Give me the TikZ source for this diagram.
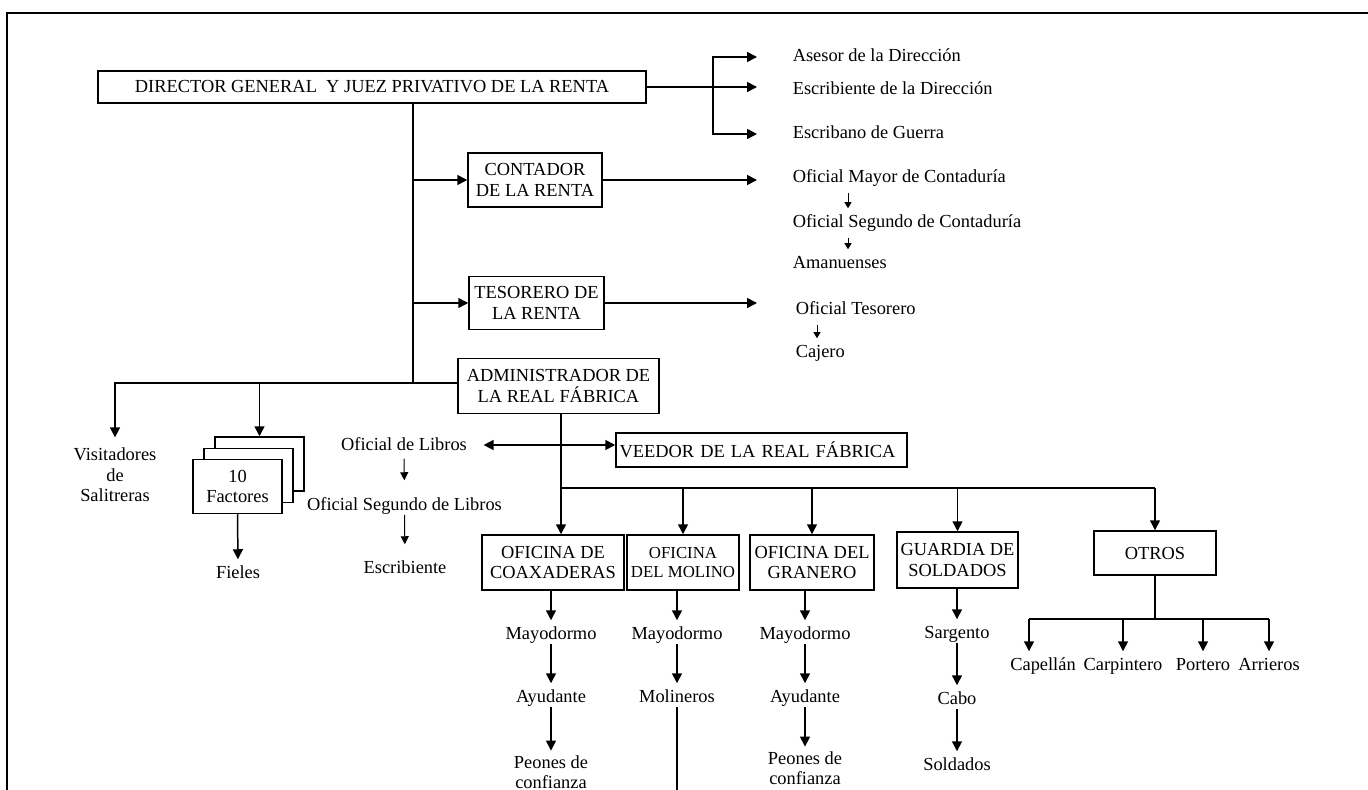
\documentclass[tikz,border=0pt]{standalone}
\usepackage{fontspec}
\setmainfont{Liberation Serif}
\usetikzlibrary{arrows.meta}
\newcommand{\letra}{\fontsize{9.2}{10.2}\selectfont}
\newcommand{\letrita}{\fontsize{8.4}{9.8}\selectfont}

\begin{document}
\begin{tikzpicture}[x=0.5pt,y=-0.5pt,line width=0.75pt,
    >={Triangle[length=5pt,width=5pt]},
    caja/.style={draw,fill=white,inner sep=0pt,align=center,font=\letra},
    cargo/.style={inner sep=0pt,font=\letra,text height=7pt,text depth=2pt},
    cargos/.style={inner sep=0pt,align=center,font=\letra},
    baja/.style={->,shorten >=2pt},
    fina/.style={->,line width=0.5pt,>={Triangle[length=4pt,width=4pt]}},
    chica/.style={-{Triangle[length=3pt,width=3.5pt]},line width=0.5pt,shorten <=2.5pt,shorten >=2.5pt}]
	  \useasboundingbox (0,0) rectangle (1368,790);
	  % page frame
	  \draw (7,790) -- (7,13) -- (1368,13);
	  \coordinate (punta) at (757,0);
	  \coordinate (brk) at (713,0);
	  \coordinate (fondo) at (0,790);
	  % director block
	  \node[caja,minimum width=274pt,minimum height=16pt] (dir) at (372,87) {DIRECTOR GENERAL\ \ Y JUEZ PRIVATIVO DE LA RENTA};
	  \node[cargo,anchor=west] (ases) at (792,57) {Asesor de la Dirección};
	  \node[cargo,anchor=west] (escr) at (792,90) {Escribiente de la Dirección};
	  \node[cargo,anchor=west] (escb) at (792,134) {Escribano de Guerra};
	  \draw[->] (dir.east) -- (punta |- dir.east);
	  \draw[<->] (punta |- ases) -| (brk |- dir.east) |- (punta |- escb);
	  % trunk down to the administrador
	  \coordinate (tr) at (413,383);
	  \draw (dir.south -| tr) -- (tr);
	  % contador block
	  \node[caja,minimum width=67pt,minimum height=27pt] (cont) at (535,180) {CONTADOR\\DE LA RENTA};
	  \draw[->] (tr |- cont) -- (cont.west);
	  \draw[->] (cont.east) -- (punta |- cont.east);
	  \node[cargo,anchor=west] (omay) at (792,178) {Oficial Mayor de Contaduría};
	  \node[cargo,anchor=west] (oseg) at (792,223) {Oficial Segundo de Contaduría};
	  \node[cargo,anchor=west] (aman) at (792,264) {Amanuenses};
	  \draw[chica] ([xshift=28pt]omay.south west) -- ([xshift=28pt]oseg.north west);
	  \draw[chica] ([xshift=28pt]oseg.south west) -- ([xshift=28pt]aman.north west);
	  % tesorero block
	  \node[caja,minimum width=67.5pt,minimum height=26.5pt] (tes) at (536.5,303) {TESORERO DE\\LA RENTA};
	  \draw[->] (tr |- tes) -- (tes.west);
	  \draw[->] (tes.east) -- (punta |- tes.east);
	  \node[cargo,anchor=west] (otes) at (795,310) {Oficial Tesorero};
	  \node[cargo,anchor=west] (caj) at (795,353) {Cajero};
	  \draw[chica] ([xshift=11pt]otes.south west) -- ([xshift=11pt]caj.north west);
	  % administrador block
	  \node[caja,minimum width=100.5pt,minimum height=27.5pt] (adm) at (558.5,386) {ADMINISTRADOR DE\\LA REAL FÁBRICA};
	  \draw (tr) -- (adm.west |- tr);
	  % visitadores and factores
	  \node[cargos] (vis) at (115,475) {Visitadores\\de\\Salitreras};
	  \draw[->,shorten >=5pt] (tr) -| (vis.north);
	  \node[caja,minimum width=44.5pt,minimum height=27pt] (fac3) at (259.5,464) {};
	  \node[caja,minimum width=44.5pt,minimum height=27pt] (fac2) at (248.5,475.5) {};
	  \node[caja,minimum width=44.5pt,minimum height=27pt] (fac) at (237.5,486.5) {10\\Factores};
	  \draw[->] (fac3.north |- tr) -- (fac3.north);
	  \node[cargo] (fie) at (238,573) {Fieles};
	  \draw[baja] (fac.south) -- (fie.north);
	  % libros and veedor
	  \node[cargo] (lib) at (404,445) {Oficial de Libros};
	  \node[caja,text width=142pt,align=left,inner xsep=1.75pt,minimum height=17pt] (vee) at (761.5,450) {VEEDOR DE LA REAL FÁBRICA};
	  \draw[<->,shorten <=8pt] (lib.east) -- (lib.east -| vee.west);
	  \node[cargo] (lseg) at (404.5,505) {Oficial Segundo de Libros};
	  \node[cargo] (lesc) at (405,568) {Escribiente};
	  \draw[fina,shorten <=2pt,shorten >=7.5pt] (lib) -- (lseg);
	  \draw[fina,shorten >=7pt] (lseg) -- (lesc);
	  % oficinas
	  \node[caja,minimum width=71pt,minimum height=27.5pt] (coax) at (553,562.5) {OFICINA DE\\COAXADERAS};
	  \node[caja,font=\letrita,minimum width=56pt,minimum height=27.5pt] (mol) at (683,562.5) {OFICINA\\DEL MOLINO};
	  \node[caja,minimum width=62pt,minimum height=27.5pt] (gra) at (812,562.5) {OFICINA DEL\\GRANERO};
	  \node[caja,minimum width=60.5pt,minimum height=28pt] (gua) at (957.5,560) {GUARDIA DE\\SOLDADOS};
	  \node[caja,minimum width=61pt,minimum height=22pt] (otr) at (1155,553) {OTROS};
	  % bus under the administrador
	  \coordinate (bus) at (561,488);
	  \draw[->] (adm.south -| bus) -- (coax.north -| bus);
	  \draw (bus) -- (bus -| otr.north);
	  \foreach \o in {mol,gra,gua,otr}
	    \draw[->] (bus -| \o.north) -- (\o.north);
	  % coaxaderas
	  \node[cargo] (may1) at (551,634) {Mayodormo};
	  \node[cargo] (ayu1) at (551,697) {Ayudante};
	  \node[cargos] (peo1) at (551,772) {Peones de\\confianza};
	  \draw[baja] (coax.south -| may1) -- (may1.north);
	  \draw[baja] (may1) -- (ayu1);
	  \draw[baja] (ayu1) -- (peo1);
	  % molino
	  \node[cargo] (may2) at (677,634) {Mayodormo};
	  \node[cargo] (moli) at (677,697) {Molineros};
	  \draw[baja] (mol.south -| may2) -- (may2.north);
	  \draw[baja] (may2) -- (moli);
	  \draw (moli.south) -- (moli.south |- fondo);
	  % granero
	  \node[cargo] (may3) at (805,634) {Mayodormo};
	  \node[cargo] (ayu3) at (805,697) {Ayudante};
	  \node[cargos] (peo3) at (805,768) {Peones de\\confianza};
	  \draw[baja] (gra.south -| may3) -- (may3.north);
	  \draw[baja] (may3) -- (ayu3);
	  \draw[baja] (ayu3) -- (peo3);
	  % guardia
	  \node[cargo] (sar) at (957,633) {Sargento};
	  \node[cargo] (cab) at (957,699) {Cabo};
	  \node[cargo] (sol) at (957,765) {Soldados};
	  \draw[baja] (gua.south -| sar) -- (sar.north);
	  \draw[baja] (sar) -- (cab);
	  \draw[baja] (cab) -- (sol);
	  % otros
	  \coordinate (bus2) at (0,619);
	  \node[cargo] (cap) at (1043,665) {Capellán};
	  \node[cargo] (car) at (1123,665) {Carpintero};
	  \node[cargo] (por) at (1203,665) {Portero};
	  \node[cargo] (arr) at (1269,665) {Arrieros};
	  \coordinate (capx) at ([xshift=-7pt]cap.north);
	  \draw (otr.south) -- (otr.south |- bus2);
	  \draw (capx |- bus2) -- (arr.north |- bus2);
	  \draw[baja] (capx |- bus2) -- (capx);
	  \foreach \o in {car,por,arr}
	    \draw[baja] (\o.north |- bus2) -- (\o.north);
	\end{tikzpicture}
\end{document}
